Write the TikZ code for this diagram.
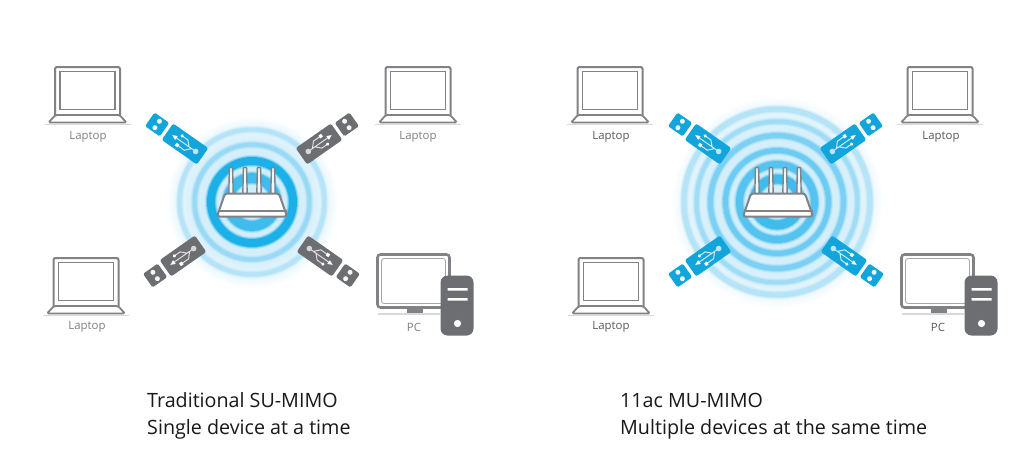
\documentclass[tikz,border=0pt]{standalone}
\usepackage{fontspec}
\setmainfont{Open Sans}
\definecolor{usbblue}{HTML}{12A5DC}
\definecolor{devgray}{HTML}{6D6E71}
\definecolor{linegray}{HTML}{808285}
\definecolor{ringdark}{HTML}{1CB0E8}
\definecolor{ringmid}{HTML}{6CCBF2}
\definecolor{ringpale}{HTML}{B5E3F7}
\pgfdeclareradialshading{glow}{\pgfpoint{0bp}{0bp}}{
 color(0bp)=(white!35!ringpale);
 color(17bp)=(white!45!ringpale);
 color(21bp)=(white!62!ringpale);
 color(24bp)=(white!90!ringpale);
 color(25bp)=(white)}
\tikzset{
 x=1pt,y=-1pt,
 devlabel/.style={font=\fontsize{11.4}{13}\selectfont,text=#1,inner sep=0pt},
 caption/.style={font=\fontsize{19.7}{24}\selectfont,text=black!90,anchor=base west,inner sep=0pt},
 pics/softcircle/.style n args={3}{code={
   \draw[draw=#3,opacity=.22,line width=#2pt+4pt] (0,0) circle (#1);
   \draw[draw=#3,opacity=.40,line width=#2pt+2pt] (0,0) circle (#1);
   \draw[draw=#3,line width=#2pt] (0,0) circle (#1);
 }},
 pics/usb/.style={code={
   \fill[#1,rounded corners=2.2pt] (-21.5,-10) rectangle (21.5,10);
   \fill[#1,rounded corners=1.5pt] (-43,-8.3) rectangle (-25,8.3);
   \fill[white!92!#1] (-34,-3.9) circle (2.5) (-34,3.9) circle (2.5);
   \draw[white!78!#1,line width=1pt] (13,0) -- (-11,0)
     (5,0) -- (0,-5) -- (-6,-5) (8,0) -- (3,5.5) -- (-5,5.5);
   \fill[white!72!#1] (13,0) circle (2.8);
   \fill[white] (-15.5,0) -- (-10.5,-2.3) -- (-10.5,2.3) -- cycle;
   \fill[white] (-7,-5) circle (1.8);
   \fill[white] (-7.5,3.8) rectangle (-4.2,7.1);
 }},
 pics/laptop/.style={code={
   \fill[black!15] (-43,56.5) rectangle (43,58.2);
   \draw[linegray,line width=2pt,rounded corners=2pt] (-32.5,48) -- (-32.5,0) -- (32.5,0) -- (32.5,48);
   \draw[linegray,line width=1.2pt] (-27.5,4.5) rectangle (27.5,42.5);
   \draw[linegray,line width=1.8pt,rounded corners=1.5pt,fill=white] (-32,48) -- (-39,55.5) -- (39,55.5) -- (32,48) -- cycle;
 }},
 pics/pc/.style={code={
   \fill[black!15] (0,58) rectangle (62,60);
   \draw[linegray,line width=2.6pt,rounded corners=3pt] (0,0) rectangle (72,53);
   \draw[black!35,line width=.8pt,rounded corners=2.5pt] (4,4) rectangle (68,49);
   \fill[linegray] (29,53) rectangle (45,58);
   \fill[devgray,rounded corners=7pt] (63,21) rectangle (96,81);
   \fill[white] (70,33.5) rectangle (90,36) (70,43.5) rectangle (90,46);
   \fill[white] (80,69) circle (3.6);
 }},
 pics/router/.style={code={
   \foreach \ax in {-21,-7,7,21}{
     \draw[linegray,line width=1.4pt,fill=white!75!ringpale,rounded corners=.8pt]
       (\ax-2.2,2) -- (\ax-1.6,-25) -- (\ax+1.6,-25) -- (\ax+2.2,2) -- cycle;
   }
   \draw[linegray,line width=2pt,fill=white,rounded corners=2.5pt]
     (-27,1) -- (27,1) -- (35,24) -- (-35,24) -- cycle;
   \draw[linegray,line width=1.4pt] (-34.5,18.5) -- (34.5,18.5);
 }}
}
\begin{document}
\begin{tikzpicture}
\useasboundingbox (0,0) rectangle (1024,460);
\fill[white] (0,0) rectangle (1024,460);
% left glow
\shade[shading=glow] (252,202) circle (86);
\foreach \r/\w/\c in {72.5/4/ringpale,57.5/4/ringpale!60!ringmid,41/8/ringdark,24/10/ringmid!45!ringdark}{
  \pic at (252,202) {softcircle={\r}{\w}{\c}};
}
% right glow
\shade[shading=glow] (777,202) circle (106);
\foreach \r/\w/\c in {93/5/ringpale,80.5/4/ringpale!70!ringmid,66.5/5/ringmid!80!ringpale,51.5/5/ringmid,37.5/7/ringmid!70!ringdark,23/9/ringmid!45!ringdark}{
  \pic at (777,202) {softcircle={\r}{\w}{\c}};
}
\pic at (252,192.5) {router};
\pic at (778,192.5) {router};
% left USBs
\pic[rotate=-35] at (185,144) {usb=usbblue};
\pic[rotate=-145] at (319,144) {usb=devgray};
\pic[rotate=35] at (183,256) {usb=devgray};
\pic[rotate=145] at (320,256) {usb=devgray};
% right USBs
\pic[rotate=-35] at (708,144) {usb=usbblue};
\pic[rotate=-145] at (843,144) {usb=usbblue};
\pic[rotate=35] at (708,256) {usb=usbblue};
\pic[rotate=145] at (844,256) {usb=usbblue};
% laptops
\pic at (87.5,67) {laptop};
\pic at (418,67) {laptop};
\pic at (86,258) {laptop};
\pic at (610,67) {laptop};
\pic at (940,67) {laptop};
\pic at (611,258) {laptop};
\pic at (377.5,254.5) {pc};
\pic at (901.5,254.5) {pc};
\node[devlabel=black!50] (l1) at (88,137) {Laptop};
\node[devlabel=black!50] (l2) at (418,137) {Laptop};
\node[devlabel=black!50] (l3) at (87,327) {Laptop};
\node[devlabel=black!50] (l4) at (414,327) {PC};
\node[devlabel=black!65] (r1) at (611,137) {Laptop};
\node[devlabel=black!65] (r2) at (941,137) {Laptop};
\node[devlabel=black!65] (r3) at (611,327) {Laptop};
\node[devlabel=black!65] (r4) at (938,327) {PC};
\node[caption] (c1) at (147,407) {Traditional SU-MIMO};
\node[caption] (c2) at (147,434) {Single device at a time};
\node[caption] (c3) at (620,407) {11ac MU-MIMO};
\node[caption] (c4) at (620,434) {Multiple devices at the same time};
\end{tikzpicture}
\end{document}
